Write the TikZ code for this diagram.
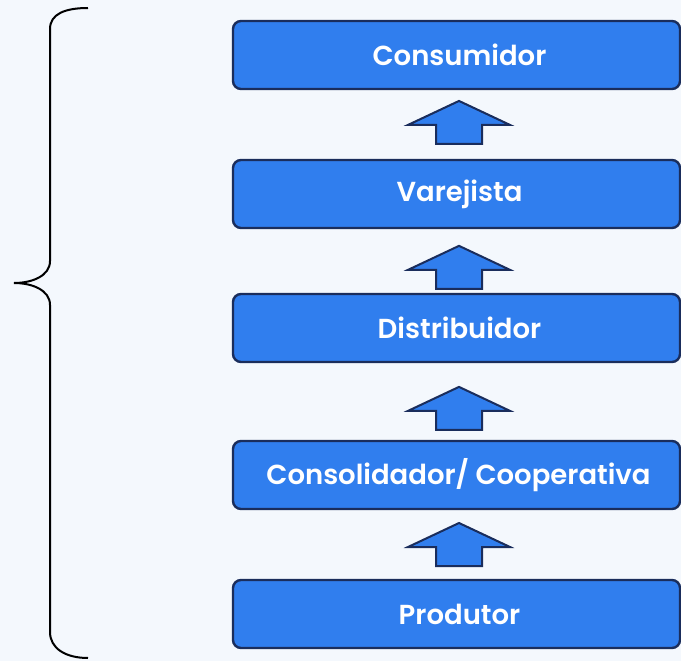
\documentclass[tikz,border=0pt]{standalone}
\usepackage{fontspec}
\setmainfont{Poppins}
\newfontfamily\popmed{Poppins SemiBold}
\usetikzlibrary{calc}
\definecolor{bgc}{RGB}{244,248,253}
\definecolor{boxfill}{RGB}{48,126,238}
\definecolor{boxline}{RGB}{26,45,92}
\tikzset{
  chainbox/.style={draw=boxline, line width=2.4pt, fill=boxfill, rounded corners=8pt,
    minimum width=447pt, minimum height=68pt, inner sep=0pt, text=white,
    font=\popmed\fontsize{27.5}{31}\selectfont},
  uparrow/.style={draw=boxline, line width=2pt, fill=boxfill, line join=miter},
  bracestyle/.style={draw=black, line width=2pt}
}
\newcommand{\uparr}[1]{%
  \path[uparrow] ($(#1)+(2.5pt,21.5pt)$) -- ($(#1)+(53.5pt,-2.5pt)$) -- ($(#1)+(25.5pt,-2.5pt)$)
   -- ($(#1)+(25.5pt,-21.5pt)$) -- ($(#1)+(-20.5pt,-21.5pt)$) -- ($(#1)+(-20.5pt,-2.5pt)$)
   -- ($(#1)+(-48.5pt,-2.5pt)$) -- cycle;}
\begin{document}
\begin{tikzpicture}[x=1pt,y=1pt]
\fill[bgc] (0,0) rectangle (681,-661);
\useasboundingbox (0,0) rectangle (681,-661);
\node[chainbox] (cons) at (456.5,-55) {\hspace*{6pt}Consumidor};
\node[chainbox] (vare) at (456.5,-194) {\hspace*{6pt}Varejista};
\node[chainbox] (dist) at (456.5,-328) {\hspace*{6pt}Distribuidor};
\node[chainbox] (coop) at (456.5,-475) {\hspace*{4pt}Consolidador/ Cooperativa};
\node[chainbox] (prod) at (456.5,-614) {\hspace*{6pt}Produtor};
\coordinate (a1) at ($(cons.south)!0.47!(vare.north)$);
\coordinate (a2) at ($(vare.south)!0.60!(dist.north)$);
\coordinate (a3) at ($(dist.south)!0.59!(coop.north)$);
\coordinate (a4) at ($(coop.south)!0.50!(prod.north)$);
\uparr{a1}\uparr{a2}\uparr{a3}\uparr{a4}
\coordinate (btop) at (88,-8);
\coordinate (btip) at (14,-283);
\coordinate (bbot) at (88,-658);
\draw[bracestyle] (btop) .. controls (65,-8) and (50,-14) .. (50,-29)
  -- (50,-261) .. controls (50,-276) and (32,-283) .. (btip)
  .. controls (32,-283) and (50,-290) .. (50,-305)
  -- (50,-632) .. controls (50,-648) and (65,-658) .. (bbot);
\end{tikzpicture}
\end{document}
